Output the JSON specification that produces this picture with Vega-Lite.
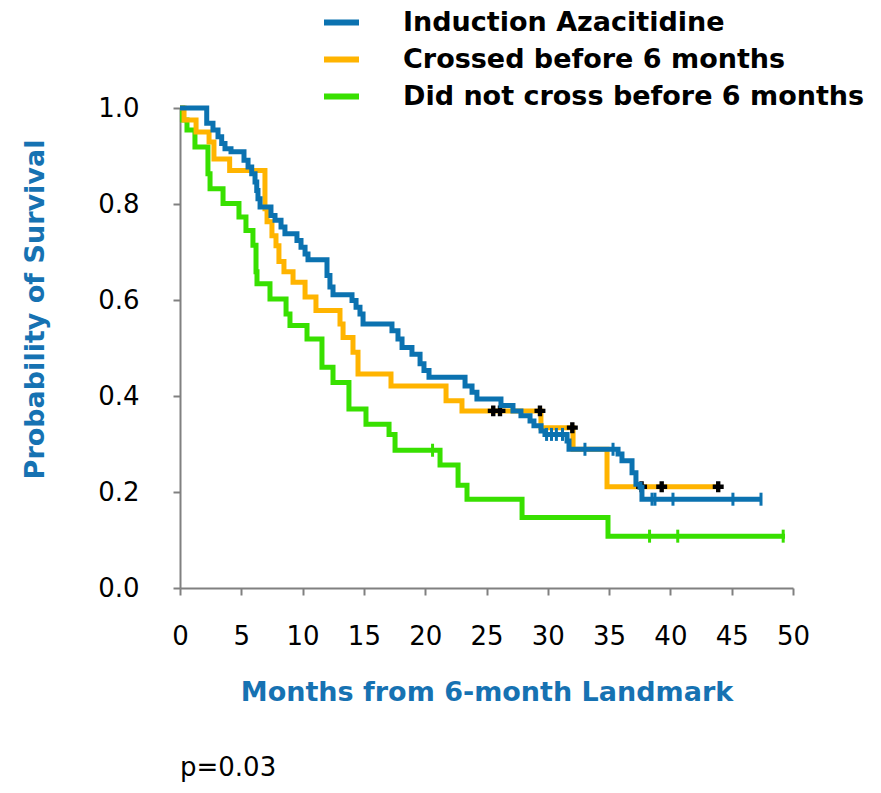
{
  "$schema": "https://vega.github.io/schema/vega-lite/v6.json",
  "width": 613,
  "height": 480,
  "autosize": {"type": "none"},
  "padding": {"left": 180, "top": 108, "right": 88, "bottom": 205},
  "background": "white",
  "config": {"view": {"stroke": null}, "font": "DejaVu Sans"},
  "title": {"text": "p=0.03", "orient": "bottom", "anchor": "start", "frame": "group", "offset": 50, "fontSize": 26, "fontWeight": "normal", "font": "DejaVu Sans", "color": "black"},
  "datasets": {
    "curves": [
      {"group": "Induction Azacitidine", "month": 0, "surv": 1.0},
      {"group": "Induction Azacitidine", "month": 2.18, "surv": 0.968},
      {"group": "Induction Azacitidine", "month": 2.69, "surv": 0.954},
      {"group": "Induction Azacitidine", "month": 3.1, "surv": 0.94},
      {"group": "Induction Azacitidine", "month": 3.4, "surv": 0.926},
      {"group": "Induction Azacitidine", "month": 3.67, "surv": 0.915},
      {"group": "Induction Azacitidine", "month": 4.16, "surv": 0.909},
      {"group": "Induction Azacitidine", "month": 5.22, "surv": 0.891},
      {"group": "Induction Azacitidine", "month": 5.55, "surv": 0.877},
      {"group": "Induction Azacitidine", "month": 5.85, "surv": 0.863},
      {"group": "Induction Azacitidine", "month": 6.12, "surv": 0.846},
      {"group": "Induction Azacitidine", "month": 6.26, "surv": 0.828},
      {"group": "Induction Azacitidine", "month": 6.36, "surv": 0.811},
      {"group": "Induction Azacitidine", "month": 6.53, "surv": 0.794},
      {"group": "Induction Azacitidine", "month": 7.42, "surv": 0.776},
      {"group": "Induction Azacitidine", "month": 7.75, "surv": 0.766},
      {"group": "Induction Azacitidine", "month": 8.24, "surv": 0.752},
      {"group": "Induction Azacitidine", "month": 8.56, "surv": 0.738},
      {"group": "Induction Azacitidine", "month": 9.54, "surv": 0.724},
      {"group": "Induction Azacitidine", "month": 9.87, "surv": 0.71},
      {"group": "Induction Azacitidine", "month": 10.2, "surv": 0.696},
      {"group": "Induction Azacitidine", "month": 10.44, "surv": 0.684},
      {"group": "Induction Azacitidine", "month": 11.99, "surv": 0.651},
      {"group": "Induction Azacitidine", "month": 12.23, "surv": 0.627},
      {"group": "Induction Azacitidine", "month": 12.48, "surv": 0.611},
      {"group": "Induction Azacitidine", "month": 14.03, "surv": 0.599},
      {"group": "Induction Azacitidine", "month": 14.36, "surv": 0.585},
      {"group": "Induction Azacitidine", "month": 14.68, "surv": 0.571},
      {"group": "Induction Azacitidine", "month": 14.93, "surv": 0.55},
      {"group": "Induction Azacitidine", "month": 17.29, "surv": 0.536},
      {"group": "Induction Azacitidine", "month": 17.78, "surv": 0.519},
      {"group": "Induction Azacitidine", "month": 18.11, "surv": 0.501},
      {"group": "Induction Azacitidine", "month": 18.92, "surv": 0.487},
      {"group": "Induction Azacitidine", "month": 19.58, "surv": 0.467},
      {"group": "Induction Azacitidine", "month": 19.9, "surv": 0.453},
      {"group": "Induction Azacitidine", "month": 20.31, "surv": 0.439},
      {"group": "Induction Azacitidine", "month": 23.25, "surv": 0.421},
      {"group": "Induction Azacitidine", "month": 23.82, "surv": 0.408},
      {"group": "Induction Azacitidine", "month": 24.22, "surv": 0.394},
      {"group": "Induction Azacitidine", "month": 26.18, "surv": 0.38},
      {"group": "Induction Azacitidine", "month": 27.16, "surv": 0.369},
      {"group": "Induction Azacitidine", "month": 27.81, "surv": 0.359},
      {"group": "Induction Azacitidine", "month": 28.55, "surv": 0.348},
      {"group": "Induction Azacitidine", "month": 28.87, "surv": 0.338},
      {"group": "Induction Azacitidine", "month": 29.45, "surv": 0.327},
      {"group": "Induction Azacitidine", "month": 29.77, "surv": 0.32},
      {"group": "Induction Azacitidine", "month": 31.57, "surv": 0.306},
      {"group": "Induction Azacitidine", "month": 31.73, "surv": 0.289},
      {"group": "Induction Azacitidine", "month": 35.73, "surv": 0.279},
      {"group": "Induction Azacitidine", "month": 36.05, "surv": 0.265},
      {"group": "Induction Azacitidine", "month": 36.87, "surv": 0.24},
      {"group": "Induction Azacitidine", "month": 37.19, "surv": 0.216},
      {"group": "Induction Azacitidine", "month": 37.52, "surv": 0.21},
      {"group": "Induction Azacitidine", "month": 37.68, "surv": 0.185},
      {"group": "Induction Azacitidine", "month": 47.47, "surv": 0.185},
      {"group": "Crossed before 6 months", "month": 0, "surv": 1.0},
      {"group": "Crossed before 6 months", "month": 0.33, "surv": 0.975},
      {"group": "Crossed before 6 months", "month": 1.31, "surv": 0.95},
      {"group": "Crossed before 6 months", "month": 2.37, "surv": 0.929},
      {"group": "Crossed before 6 months", "month": 2.77, "surv": 0.894},
      {"group": "Crossed before 6 months", "month": 4.05, "surv": 0.87},
      {"group": "Crossed before 6 months", "month": 6.93, "surv": 0.79},
      {"group": "Crossed before 6 months", "month": 7.1, "surv": 0.763},
      {"group": "Crossed before 6 months", "month": 7.5, "surv": 0.734},
      {"group": "Crossed before 6 months", "month": 7.83, "surv": 0.713},
      {"group": "Crossed before 6 months", "month": 8.07, "surv": 0.68},
      {"group": "Crossed before 6 months", "month": 8.48, "surv": 0.659},
      {"group": "Crossed before 6 months", "month": 9.22, "surv": 0.637},
      {"group": "Crossed before 6 months", "month": 10.2, "surv": 0.606},
      {"group": "Crossed before 6 months", "month": 11.09, "surv": 0.578},
      {"group": "Crossed before 6 months", "month": 13.05, "surv": 0.55},
      {"group": "Crossed before 6 months", "month": 13.3, "surv": 0.522},
      {"group": "Crossed before 6 months", "month": 14.11, "surv": 0.491},
      {"group": "Crossed before 6 months", "month": 14.52, "surv": 0.446},
      {"group": "Crossed before 6 months", "month": 17.21, "surv": 0.421},
      {"group": "Crossed before 6 months", "month": 21.7, "surv": 0.39},
      {"group": "Crossed before 6 months", "month": 23.0, "surv": 0.369},
      {"group": "Crossed before 6 months", "month": 29.44, "surv": 0.334},
      {"group": "Crossed before 6 months", "month": 32.06, "surv": 0.289},
      {"group": "Crossed before 6 months", "month": 34.83, "surv": 0.211},
      {"group": "Crossed before 6 months", "month": 43.88, "surv": 0.211},
      {"group": "Did not cross before 6 months", "month": 0, "surv": 1.0},
      {"group": "Did not cross before 6 months", "month": 0.2, "surv": 0.975},
      {"group": "Did not cross before 6 months", "month": 0.57, "surv": 0.954},
      {"group": "Did not cross before 6 months", "month": 1.22, "surv": 0.919},
      {"group": "Did not cross before 6 months", "month": 2.28, "surv": 0.863},
      {"group": "Did not cross before 6 months", "month": 2.45, "surv": 0.832},
      {"group": "Did not cross before 6 months", "month": 3.51, "surv": 0.801},
      {"group": "Did not cross before 6 months", "month": 4.81, "surv": 0.773},
      {"group": "Did not cross before 6 months", "month": 5.38, "surv": 0.745},
      {"group": "Did not cross before 6 months", "month": 5.95, "surv": 0.714},
      {"group": "Did not cross before 6 months", "month": 6.2, "surv": 0.659},
      {"group": "Did not cross before 6 months", "month": 6.28, "surv": 0.634},
      {"group": "Did not cross before 6 months", "month": 7.34, "surv": 0.602},
      {"group": "Did not cross before 6 months", "month": 8.65, "surv": 0.571},
      {"group": "Did not cross before 6 months", "month": 8.97, "surv": 0.547},
      {"group": "Did not cross before 6 months", "month": 10.36, "surv": 0.519},
      {"group": "Did not cross before 6 months", "month": 11.58, "surv": 0.46},
      {"group": "Did not cross before 6 months", "month": 12.48, "surv": 0.428},
      {"group": "Did not cross before 6 months", "month": 13.78, "surv": 0.373},
      {"group": "Did not cross before 6 months", "month": 15.17, "surv": 0.341},
      {"group": "Did not cross before 6 months", "month": 17.05, "surv": 0.32},
      {"group": "Did not cross before 6 months", "month": 17.54, "surv": 0.287},
      {"group": "Did not cross before 6 months", "month": 21.21, "surv": 0.256},
      {"group": "Did not cross before 6 months", "month": 22.68, "surv": 0.214},
      {"group": "Did not cross before 6 months", "month": 23.41, "surv": 0.185},
      {"group": "Did not cross before 6 months", "month": 27.9, "surv": 0.147},
      {"group": "Did not cross before 6 months", "month": 34.91, "surv": 0.108},
      {"group": "Did not cross before 6 months", "month": 49.35, "surv": 0.108}
    ],
    "censors": [
      {"group": "Induction Azacitidine", "month": 29.9, "surv": 0.32},
      {"group": "Induction Azacitidine", "month": 30.3, "surv": 0.32},
      {"group": "Induction Azacitidine", "month": 30.7, "surv": 0.32},
      {"group": "Induction Azacitidine", "month": 31.2, "surv": 0.32},
      {"group": "Induction Azacitidine", "month": 33.03, "surv": 0.289},
      {"group": "Induction Azacitidine", "month": 35.32, "surv": 0.289},
      {"group": "Induction Azacitidine", "month": 38.5, "surv": 0.185},
      {"group": "Induction Azacitidine", "month": 38.74, "surv": 0.185},
      {"group": "Induction Azacitidine", "month": 40.21, "surv": 0.185},
      {"group": "Induction Azacitidine", "month": 45.1, "surv": 0.185},
      {"group": "Induction Azacitidine", "month": 47.39, "surv": 0.185},
      {"group": "Crossed before 6 months", "month": 25.55, "surv": 0.369},
      {"group": "Crossed before 6 months", "month": 26.1, "surv": 0.369},
      {"group": "Crossed before 6 months", "month": 29.36, "surv": 0.369},
      {"group": "Crossed before 6 months", "month": 32.0, "surv": 0.334},
      {"group": "Crossed before 6 months", "month": 37.65, "surv": 0.211},
      {"group": "Crossed before 6 months", "month": 39.29, "surv": 0.211},
      {"group": "Crossed before 6 months", "month": 43.9, "surv": 0.211},
      {"group": "Did not cross before 6 months", "month": 20.6, "surv": 0.287},
      {"group": "Did not cross before 6 months", "month": 38.3, "surv": 0.108},
      {"group": "Did not cross before 6 months", "month": 40.6, "surv": 0.108},
      {"group": "Did not cross before 6 months", "month": 49.2, "surv": 0.108}
    ]
  },
  "encoding": {
    "x": {
      "field": "month", "type": "quantitative",
      "scale": {"domain": [0, 50], "nice": false, "zero": false},
      "axis": {
        "title": "Months from 6-month Landmark",
        "values": [0, 5, 10, 15, 20, 25, 30, 35, 40, 45, 50],
        "grid": false, "domainColor": "#808080", "domainWidth": 2, "tickColor": "#808080", "tickWidth": 2, "tickSize": 7,
        "labelFont": "DejaVu Sans", "labelFontSize": 26, "labelColor": "black", "labelPadding": 28, "labelFlush": false, "labelOverlap": false,
        "titleFont": "DejaVu Sans", "titleFontSize": 27, "titleFontWeight": "bold", "titleColor": "#1672B2", "titleY": 104, "titleBaseline": "middle"
      }
    },
    "y": {
      "field": "surv", "type": "quantitative",
      "scale": {"domain": [0, 1], "nice": false},
      "axis": {
        "title": "Probability of Survival",
        "values": [0, 0.2, 0.4, 0.6, 0.8, 1.0], "format": ".1f",
        "grid": false, "domainColor": "#808080", "domainWidth": 2, "tickColor": "#808080", "tickWidth": 2, "tickSize": 7,
        "labelFont": "DejaVu Sans", "labelFontSize": 26, "labelColor": "black", "labelPadding": 34, "labelFlush": false, "labelOverlap": false,
        "titleFont": "DejaVu Sans", "titleFontSize": 27, "titleFontWeight": "bold", "titleColor": "#1672B2", "titleX": -145, "titleY": 201, "titleBaseline": "middle", "titleAngle": -90
      }
    },
    "color": {
      "field": "group", "type": "nominal",
      "scale": {"domain": ["Induction Azacitidine", "Crossed before 6 months", "Did not cross before 6 months"], "range": ["#0B72B0", "#FFB400", "#38E000"]},
      "legend": {
        "title": null, "orient": "none", "legendX": 141, "legendY": -106,
        "symbolType": "stroke", "symbolSize": 1225, "symbolStrokeWidth": 6,
        "labelFont": "DejaVu Sans", "labelFontSize": 27, "labelFontWeight": "bold", "labelColor": "black", "labelOffset": 41, "labelLimit": 600,
        "rowPadding": 3
      }
    }
  },
  "layer": [
    {
      "data": {"name": "curves"},
      "transform": [{"filter": "datum.group === 'Did not cross before 6 months'"}],
      "mark": {"type": "line", "interpolate": "step-after", "strokeWidth": 5}
    },
    {
      "data": {"name": "curves"},
      "transform": [{"filter": "datum.group === 'Crossed before 6 months'"}],
      "mark": {"type": "line", "interpolate": "step-after", "strokeWidth": 5}
    },
    {
      "data": {"name": "censors"},
      "transform": [{"filter": "datum.group === 'Crossed before 6 months'"}],
      "mark": {"type": "point", "shape": "cross", "filled": true, "size": 120, "color": "black", "opacity": 1},
      "encoding": {"color": {"value": "black"}}
    },
    {
      "data": {"name": "curves"},
      "transform": [{"filter": "datum.group === 'Induction Azacitidine'"}],
      "mark": {"type": "line", "interpolate": "step-after", "strokeWidth": 5}
    },
    {
      "data": {"name": "censors"},
      "transform": [{"filter": "datum.group !== 'Crossed before 6 months'"}],
      "mark": {"type": "tick", "orient": "vertical", "size": 13, "thickness": 3, "opacity": 1}
    }
  ]
}
